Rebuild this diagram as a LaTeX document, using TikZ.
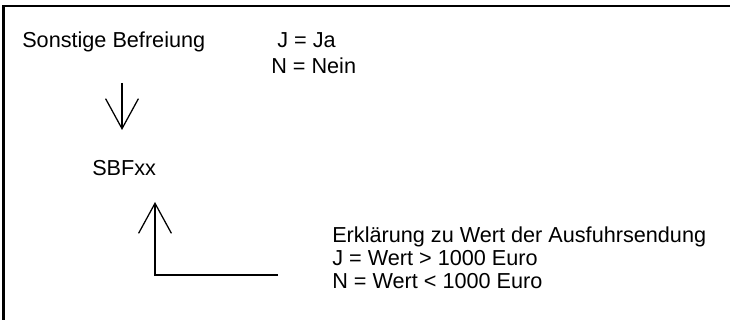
\documentclass[tikz,border=0pt]{standalone}
\usepackage{fontspec}
\setmainfont{Liberation Sans}
\usetikzlibrary{arrows.meta}
\tikzset{
	label/.style={anchor=base west, inner sep=0pt, font=\fontsize{15.4}{18}\selectfont},
	pointer/.style={line width=0.9pt, -{Straight Barb[length=0.75cm, width=0.82cm, line width=0.9pt]}}
}

\begin{document}
\begin{tikzpicture}
	% page: 730 x 320 px, 1px = 0.25mm
	\useasboundingbox (0, 0) rectangle (18.25, 8);
	% frame (left and top only)
	\draw[line width=1.5pt] (0.0875, 0) -- (0.0875, 7.84) -- (18.25, 7.84);
	% field and codes
	\node[label] (befreiung) at (0.55, 6.8) {Sonstige Befreiung};
	\node[label] (ja) at (6.925, 6.8) {J = Ja};
	\node[label] (nein) at (6.775, 6.15) {N = Nein};
	\node[label] (sbf) at (2.3, 3.6) {SBFxx};
	% explanation
	\node[label] (erkl) at (8.3, 1.925) {Erklärung zu Wert der Ausfuhrsendung};
	\node[label] (wertj) at (8.3, 1.35) {J = Wert > 1000 Euro};
	\node[label] (wertn) at (8.3, 0.775) {N = Wert < 1000 Euro};
	% arrow ends
	\coordinate (downstart) at (3.05, 5.925);
	\coordinate (downend) at (3.05, 4.75);
	\coordinate (upstart) at (6.95, 1.125);
	\coordinate (upcorner) at (3.875, 1.125);
	\coordinate (upend) at (3.875, 2.95);
	% arrows
	\draw[pointer] (downstart) -- (downend);
	\draw[pointer] (upstart) -- (upcorner) -- (upend);
\end{tikzpicture}
\end{document}
